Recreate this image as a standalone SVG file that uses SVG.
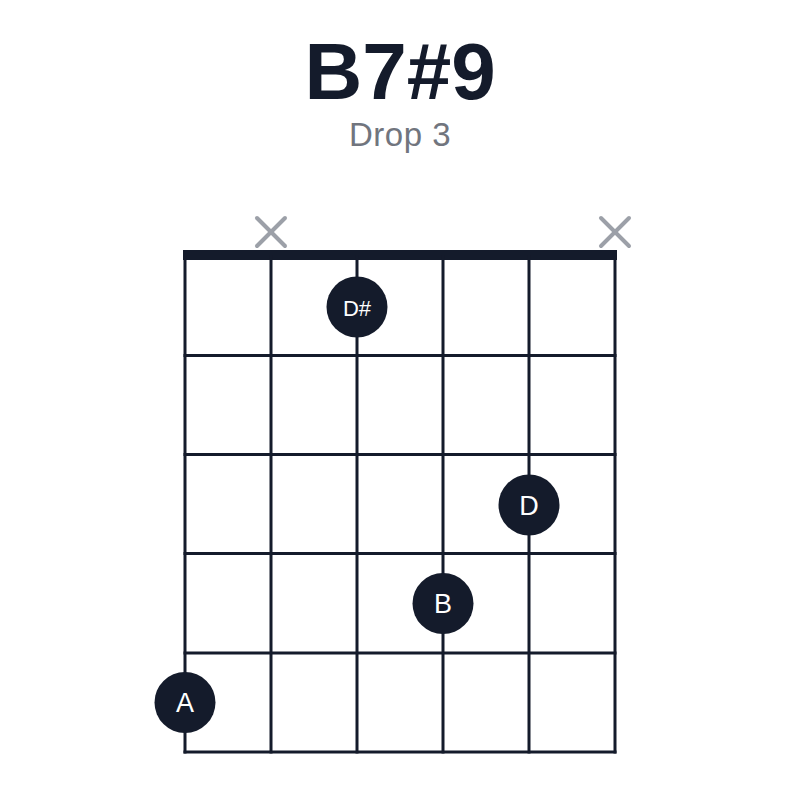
<svg xmlns="http://www.w3.org/2000/svg" width="800" height="800" viewBox="0 0 800 800">
<style>
.title{font-family:"Liberation Sans",Arial,sans-serif;font-weight:bold;font-size:80px;fill:#141b2b;text-anchor:middle}
.sub{font-family:"Liberation Sans",Arial,sans-serif;font-size:33px;fill:#71757e;text-anchor:middle;letter-spacing:0.5px}
.line{stroke:#141b2b;stroke-width:3;fill:none}
.x{stroke:#9ca0a8;stroke-width:4;stroke-linecap:round}
.dot{fill:#141b2b}
.lbl{font-family:"Liberation Sans",Arial,sans-serif;font-size:27px;fill:#ffffff;text-anchor:middle}
</style>
<rect width="800" height="800" fill="#ffffff"/>
<text class="title" x="400" y="99">B7#9</text>
<text class="sub" x="400" y="146">Drop 3</text>
<g id="grid">
<rect x="183" y="250" width="434" height="10" fill="#141b2b"/>
<line class="line" x1="185" y1="255" x2="185" y2="753.5"/>
<line class="line" x1="271" y1="255" x2="271" y2="753.5"/>
<line class="line" x1="357" y1="255" x2="357" y2="753.5"/>
<line class="line" x1="443" y1="255" x2="443" y2="753.5"/>
<line class="line" x1="529" y1="255" x2="529" y2="753.5"/>
<line class="line" x1="615" y1="255" x2="615" y2="753.5"/>
<line class="line" x1="183.5" y1="355.5" x2="616.5" y2="355.5"/>
<line class="line" x1="183.5" y1="454.5" x2="616.5" y2="454.5"/>
<line class="line" x1="183.5" y1="553.5" x2="616.5" y2="553.5"/>
<line class="line" x1="183.5" y1="653" x2="616.5" y2="653"/>
<line class="line" x1="183.5" y1="752" x2="616.5" y2="752"/>
</g>
<g id="mute1"><line class="x" x1="257" y1="218" x2="285" y2="246"/><line class="x" x1="285" y1="218" x2="257" y2="246"/></g>
<g id="mute6"><line class="x" x1="601" y1="218" x2="629" y2="246"/><line class="x" x1="629" y1="218" x2="601" y2="246"/></g>
<g id="dotDs"><circle class="dot" cx="357" cy="307" r="30.5"/><text class="lbl" x="357" y="315.5" style="font-size:22px">D#</text></g>
<g id="dotD"><circle class="dot" cx="529" cy="505" r="30.5"/><text class="lbl" x="529" y="514.5">D</text></g>
<g id="dotB"><circle class="dot" cx="443" cy="603.5" r="30.5"/><text class="lbl" x="443" y="613">B</text></g>
<g id="dotA"><circle class="dot" cx="185" cy="702.5" r="30.5"/><text class="lbl" x="185" y="712">A</text></g>
</svg>
